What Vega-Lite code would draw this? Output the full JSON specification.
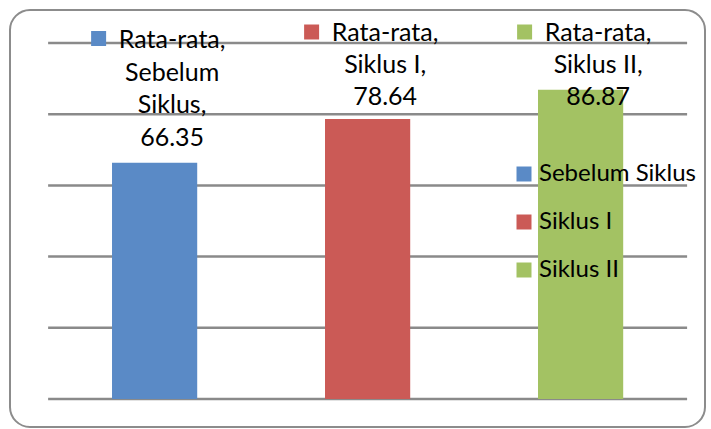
{
  "$schema": "https://vega.github.io/schema/vega-lite/v6.json",
  "width": 695,
  "height": 417,
  "autosize": {"type": "none"},
  "padding": {"left": 10, "top": 10, "right": 6, "bottom": 2},
  "background": "white",
  "config": {
    "view": {"stroke": "#8c8c8c", "strokeWidth": 2, "cornerRadius": 20},
    "font": "Lato"
  },
  "datasets": {
    "nilai": [
      {"kategori": "Sebelum Siklus", "nilai": 66.35, "label": ["Rata-rata,", "Sebelum", "Siklus,", "66.35"]},
      {"kategori": "Siklus I", "nilai": 78.64, "label": ["Rata-rata,", "Siklus I,", "78.64"]},
      {"kategori": "Siklus II", "nilai": 86.87, "label": ["Rata-rata,", "Siklus II,", "86.87"]}
    ],
    "grid": [{"g": 0}, {"g": 20}, {"g": 40}, {"g": 60}, {"g": 80}, {"g": 100}]
  },
  "layer": [
    {
      "data": {"name": "grid"},
      "mark": {"type": "rule", "color": "#8a8a8a", "strokeWidth": 2.5},
      "encoding": {
        "y": {"field": "g", "type": "quantitative", "axis": null,
              "scale": {"domain": [-7.87, 109.27], "nice": false, "zero": false}},
        "x": {"datum": "Sebelum Siklus", "type": "nominal", "bandPosition": -0.75, "axis": null},
        "x2": {"datum": "Siklus II", "bandPosition": 1.75}
      }
    },
    {
      "data": {"name": "nilai"},
      "mark": {"type": "bar"},
      "encoding": {
        "x": {"field": "kategori", "type": "nominal", "axis": null, "sort": null,
              "scale": {"type": "band", "domain": ["Sebelum Siklus", "Siklus I", "Siklus II"],
                        "paddingInner": 0.6, "paddingOuter": 0.4315, "align": 0.555}},
        "y": {"field": "nilai", "type": "quantitative", "axis": null},
        "y2": {"datum": 0},
        "color": {
          "field": "kategori", "type": "nominal",
          "scale": {"domain": ["Sebelum Siklus", "Siklus I", "Siklus II"],
                    "range": ["#5a8ac6", "#cb5a56", "#a3c263"]},
          "legend": {
            "title": null, "orient": "none", "legendX": 502, "legendY": 152,
            "symbolType": "square", "symbolSize": 225, "symbolStrokeWidth": 0,
            "symbolOpacity": 1, "labelFontSize": 24, "labelFont": "Lato",
            "labelColor": "black", "labelOffset": 3, "rowPadding": 24, "padding": 0,
            "labelLimit": 300
          }
        }
      }
    },
    {
      "data": {"name": "nilai"},
      "transform": [{"filter": "datum.kategori === 'Sebelum Siklus'"}],
      "mark": {"type": "point", "shape": "square", "filled": true, "size": 225, "opacity": 1, "xOffset": -56, "yOffset": -4.5},
      "encoding": {
        "x": {"field": "kategori", "type": "nominal"},
        "y": {"datum": 100},
        "color": {"field": "kategori", "type": "nominal", "legend": null}
      }
    },
    {
      "data": {"name": "nilai"},
      "transform": [{"filter": "datum.kategori !== 'Sebelum Siklus'"}],
      "mark": {"type": "point", "shape": "square", "filled": true, "size": 225, "opacity": 1, "xOffset": -56, "yOffset": -11},
      "encoding": {
        "x": {"field": "kategori", "type": "nominal"},
        "y": {"datum": 100},
        "color": {"field": "kategori", "type": "nominal", "legend": null}
      }
    },
    {
      "data": {"name": "nilai"},
      "transform": [{"filter": "datum.kategori === 'Sebelum Siklus'"}],
      "mark": {"type": "text", "baseline": "top", "align": "center", "fontSize": 25, "lineHeight": 32.5, "color": "black", "dx": 17.5, "dy": -14.5},
      "encoding": {
        "x": {"field": "kategori", "type": "nominal"},
        "y": {"datum": 100},
        "text": {"field": "label"}
      }
    },
    {
      "data": {"name": "nilai"},
      "transform": [{"filter": "datum.kategori !== 'Sebelum Siklus'"}],
      "mark": {"type": "text", "baseline": "top", "align": "center", "fontSize": 25, "lineHeight": 32, "color": "black", "dx": 17.5, "dy": -21.5},
      "encoding": {
        "x": {"field": "kategori", "type": "nominal"},
        "y": {"datum": 100},
        "text": {"field": "label"}
      }
    }
  ]
}
